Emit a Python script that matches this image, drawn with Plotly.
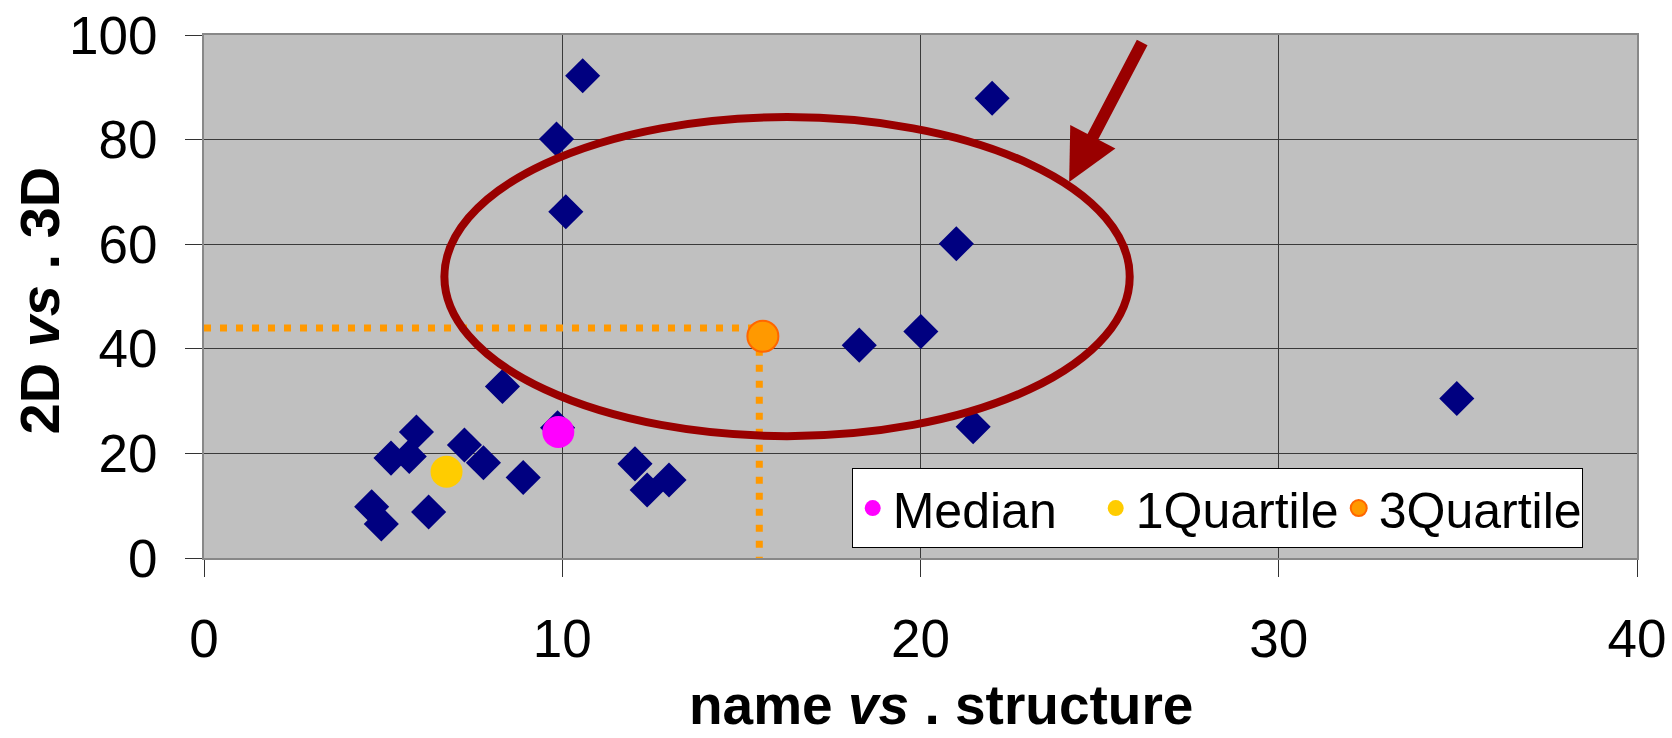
import plotly.graph_objects as go

# Data points (name vs. structure, 2D vs. 3D)
x_vals = [4.68, 4.95, 5.22, 5.73, 5.93, 6.27, 7.27, 7.80, 8.33, 8.91, 9.87,
          9.84, 10.10, 10.57, 12.03, 12.37, 12.98, 18.29, 20.01, 21.0, 21.47,
          22.0, 34.97]
y_vals = [9.8, 6.5, 19.1, 19.4, 24.1, 8.8, 21.6, 18.2, 32.8, 15.4, 24.9,
          80.1, 66.2, 92.2, 18.0, 13.0, 14.9, 40.7, 43.3, 60.1, 25.1,
          87.9, 30.5]

median_x = [9.89]
median_y = [24.1]
q1_x = [6.77]
q1_y = [16.5]
q3_x = [15.6]
q3_y = [42.4]

# Guide lines for 3rd quartile
guide_h_x = [0, 15.3]
guide_h_y = [44.0, 44.0]
guide_v_x = [15.5, 15.5]
guide_v_y = [40.0, 0]

# Ellipse (data coords) and arrow
ellipse_x = [6.71, 25.84]
ellipse_y = [23.3, 84.3]
arrow_tail = (26.21, 98.85)
arrow_tip = (24.15, 71.9)

x_title = "name <i>vs</i> . structure"
y_title = "2D <i>vs</i> . 3D"

FONT = "Liberation Sans, Arial, sans-serif"
ORANGE = "#FF9900"

fig = go.Figure()

fig.add_trace(go.Scatter(
    x=x_vals, y=y_vals, mode="markers", name="data", showlegend=False,
    marker=dict(symbol="diamond", size=27, color="#000080", line=dict(width=0)),
))

dot_line = dict(color=ORANGE, width=7, dash="7px,9px")
fig.add_trace(go.Scatter(x=guide_h_x, y=guide_h_y, mode="lines", showlegend=False,
                         line=dot_line, hoverinfo="skip"))
fig.add_trace(go.Scatter(x=guide_v_x, y=guide_v_y, mode="lines", showlegend=False,
                         line=dot_line, hoverinfo="skip"))

fig.add_trace(go.Scatter(x=median_x, y=median_y, mode="markers", name="Median",
                         marker=dict(symbol="circle", size=32, color="#FF00FF",
                                     line=dict(width=0))))
fig.add_trace(go.Scatter(x=q1_x, y=q1_y, mode="markers", name="1Quartile",
                         marker=dict(symbol="circle", size=32, color="#FFCC00",
                                     line=dict(width=0))))
fig.add_trace(go.Scatter(x=q3_x, y=q3_y, mode="markers", name="3Quartile",
                         marker=dict(symbol="circle", size=31, color=ORANGE,
                                     line=dict(width=2, color="#FF6600"))))

fig.add_shape(type="circle", xref="x", yref="y",
              x0=ellipse_x[0], x1=ellipse_x[1], y0=ellipse_y[0], y1=ellipse_y[1],
              line=dict(color="#990000", width=8), layer="above")

fig.add_annotation(x=arrow_tip[0], y=arrow_tip[1], ax=arrow_tail[0], ay=arrow_tail[1],
                   xref="x", yref="y", axref="x", ayref="y", text="",
                   showarrow=True, arrowhead=2, arrowsize=0.85, arrowwidth=12,
                   arrowcolor="#990000", standoff=0, startstandoff=0)

# Axis titles
fig.add_annotation(text=x_title, xref="paper", yref="paper", x=0.5, y=0,
                   xanchor="center", yanchor="top", xshift=20, yshift=-114,
                   showarrow=False,
                   font=dict(family=FONT, size=55, color="black", weight="bold"))
fig.add_annotation(text=y_title, xref="paper", yref="paper", x=0, y=0.5,
                   xanchor="center", yanchor="middle", xshift=-165, yshift=-4,
                   textangle=-90, showarrow=False,
                   font=dict(family=FONT, size=56, color="black", weight="bold"))

axis_common = dict(
    showgrid=True, gridcolor="#3a3a3a", gridwidth=1,
    ticks="outside", ticklen=17, tickcolor="#333333", tickwidth=1,
    zeroline=False, showline=True, linecolor="#888888", linewidth=2, mirror=True,
    tickfont=dict(family=FONT, size=53, color="black"),
    automargin=False,
)

fig.update_layout(
    width=1672, height=738,
    margin=dict(l=204, r=35, t=35, b=180),
    paper_bgcolor="white", plot_bgcolor="#C0C0C0",
    template="none",
    xaxis=dict(range=[0, 40], tickvals=[0, 10, 20, 30, 40], ticklabelstandoff=16,
               **axis_common),
    yaxis=dict(range=[0, 100], tickvals=[0, 20, 40, 60, 80, 100], ticklabelstandoff=17,
               **axis_common),
    legend=dict(orientation="h", x=0.452, y=0.172, xanchor="left", yanchor="top",
                bgcolor="white", bordercolor="black", borderwidth=1,
                font=dict(family=FONT, size=50, color="black"),
                entrywidth=198, entrywidthmode="pixels",
                itemsizing="trace"),
    showlegend=True,
)

fig.write_html("out.html",
               config={"displayModeBar": False},
               post_script="document.body.style.margin='0';document.body.style.padding='0';")
